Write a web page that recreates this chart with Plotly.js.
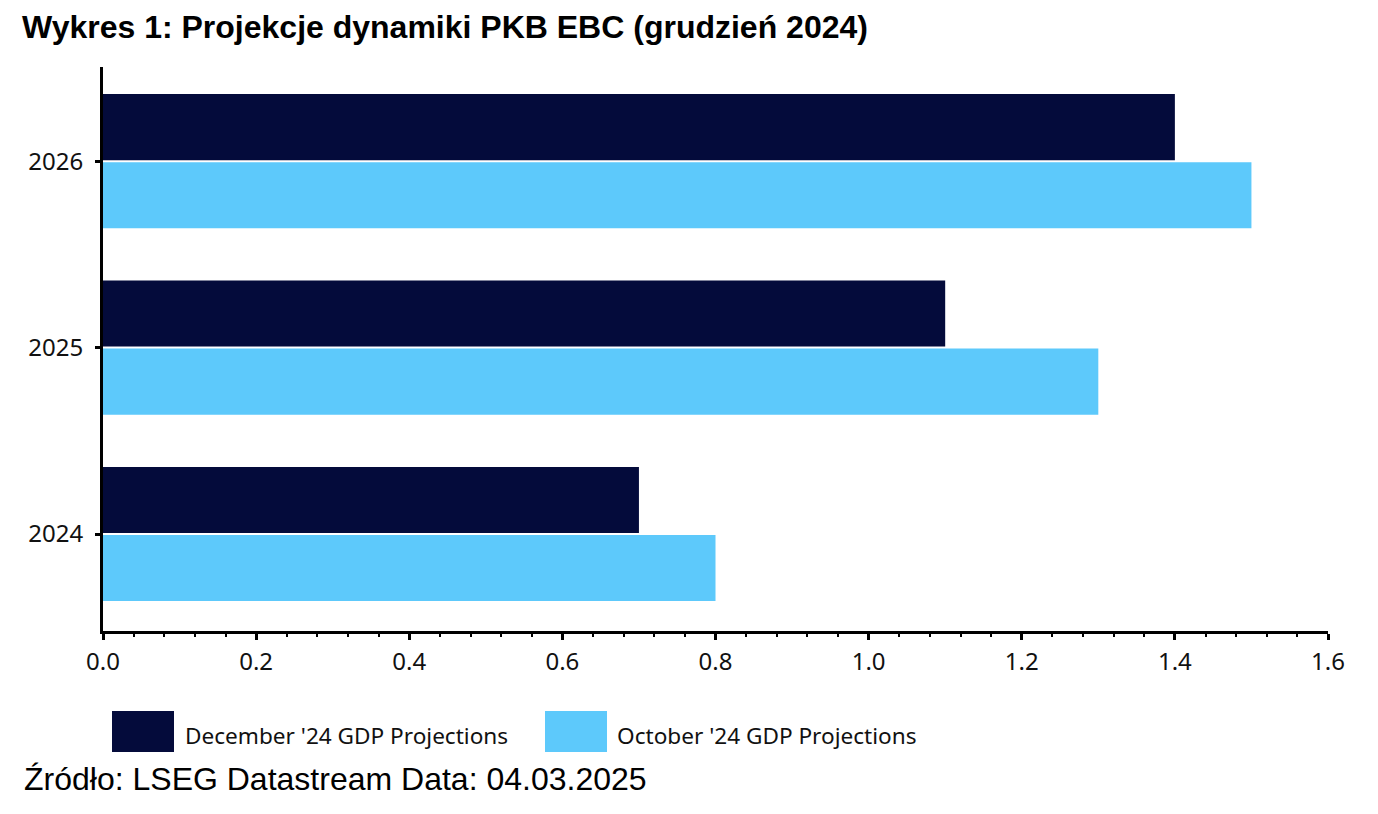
<!DOCTYPE html>
<html>
<head>
<meta charset="utf-8">
<script src="https://cdn.plot.ly/plotly-3.0.1.min.js"></script>
<style>html,body{margin:0;padding:0;background:#fff;}#chart{width:1378px;height:814px;}</style>
</head>
<body>
<div id="chart"></div>
<script>
const years = ['2024', '2025', '2026'];
const decemberValues = [0.7, 1.1, 1.4];
const octoberValues = [0.8, 1.3, 1.5];
const seriesNames = ["December '24 GDP Projections", "October '24 GDP Projections"];
const xTickValues = [0, 0.2, 0.4, 0.6, 0.8, 1.0, 1.2, 1.4, 1.6];
const xTickLabels = ['0.0', '0.2', '0.4', '0.6', '0.8', '1.0', '1.2', '1.4', '1.6'];

const darkColor = '#040B3B';
const lightColor = '#5DC9FB';
const tickFont = {family: 'Noto Sans, Open Sans, sans-serif', size: 24, color: '#111'};
const legendFont = {family: 'Noto Sans, Open Sans, sans-serif', size: 22.6, color: '#111'};

const W = 1378, H = 814, L = 103, R = 50, T = 67, B = 183;
const pw = W - L - R, ph = H - T - B;
const px = x => (x - L) / pw;
const py = y => (H - B - y) / ph;

const traces = [
  {type: 'bar', orientation: 'h', name: seriesNames[1], y: years, x: octoberValues,
   marker: {color: lightColor}, showlegend: false, hoverinfo: 'x+name'},
  {type: 'bar', orientation: 'h', name: seriesNames[0], y: years, x: decemberValues,
   marker: {color: darkColor}, showlegend: false, hoverinfo: 'x+name'}
];

const layout = {
  width: W, height: H,
  margin: {l: L, r: R, t: T, b: B},
  paper_bgcolor: '#fff', plot_bgcolor: '#fff',
  barmode: 'group', bargap: 0.27, bargroupgap: 0.03,
  title: {text: '<b>Wykres 1: Projekcje dynamiki PKB EBC (grudzień 2024)</b>',
          font: {family: 'Liberation Sans, Arial, sans-serif', size: 32, color: '#000'},
          x: 22 / W, xanchor: 'left', xref: 'container', y: 1 - 27 / H, yanchor: 'middle', yref: 'container'},
  xaxis: {range: [0, 1.6], tickvals: xTickValues, ticktext: xTickLabels, showgrid: false, zeroline: false,
          showline: true, linecolor: '#000', linewidth: 3, ticks: 'outside', ticklen: 6, tickwidth: 3, tickcolor: '#000',
          minor: {dtick: 0.04, ticks: 'outside', ticklen: 3, tickwidth: 2, tickcolor: '#000'},
          tickfont: tickFont, ticklabelstandoff: 1, fixedrange: true},
  yaxis: {type: 'category', categoryarray: years, range: [-0.52, 2.505], showgrid: false, zeroline: false,
          showline: true, linecolor: '#000', linewidth: 3, ticks: 'outside', ticklen: 5, tickwidth: 3, tickcolor: '#000',
          tickfont: tickFont, ticklabelstandoff: 7, fixedrange: true},
  shapes: [
    {type: 'rect', xref: 'paper', yref: 'paper', x0: px(112), x1: px(174), y0: py(752), y1: py(711),
     fillcolor: darkColor, line: {width: 0}},
    {type: 'rect', xref: 'paper', yref: 'paper', x0: px(545), x1: px(607), y0: py(752), y1: py(711),
     fillcolor: lightColor, line: {width: 0}}
  ],
  annotations: [
    {text: seriesNames[0], xref: 'paper', yref: 'paper', x: px(183), y: py(735), xanchor: 'left', yanchor: 'middle',
     showarrow: false, font: legendFont},
    {text: seriesNames[1], xref: 'paper', yref: 'paper', x: px(615), y: py(735), xanchor: 'left', yanchor: 'middle',
     showarrow: false, font: legendFont},
    {text: 'Źródło: LSEG Datastream Data: 04.03.2025', xref: 'paper', yref: 'paper', x: px(22), y: py(779),
     xanchor: 'left', yanchor: 'middle', showarrow: false,
     font: {family: 'Liberation Sans, Arial, sans-serif', size: 32, color: '#000'}}
  ]
};

Plotly.newPlot('chart', traces, layout, {displayModeBar: false, staticPlot: false});
</script>
</body>
</html>
